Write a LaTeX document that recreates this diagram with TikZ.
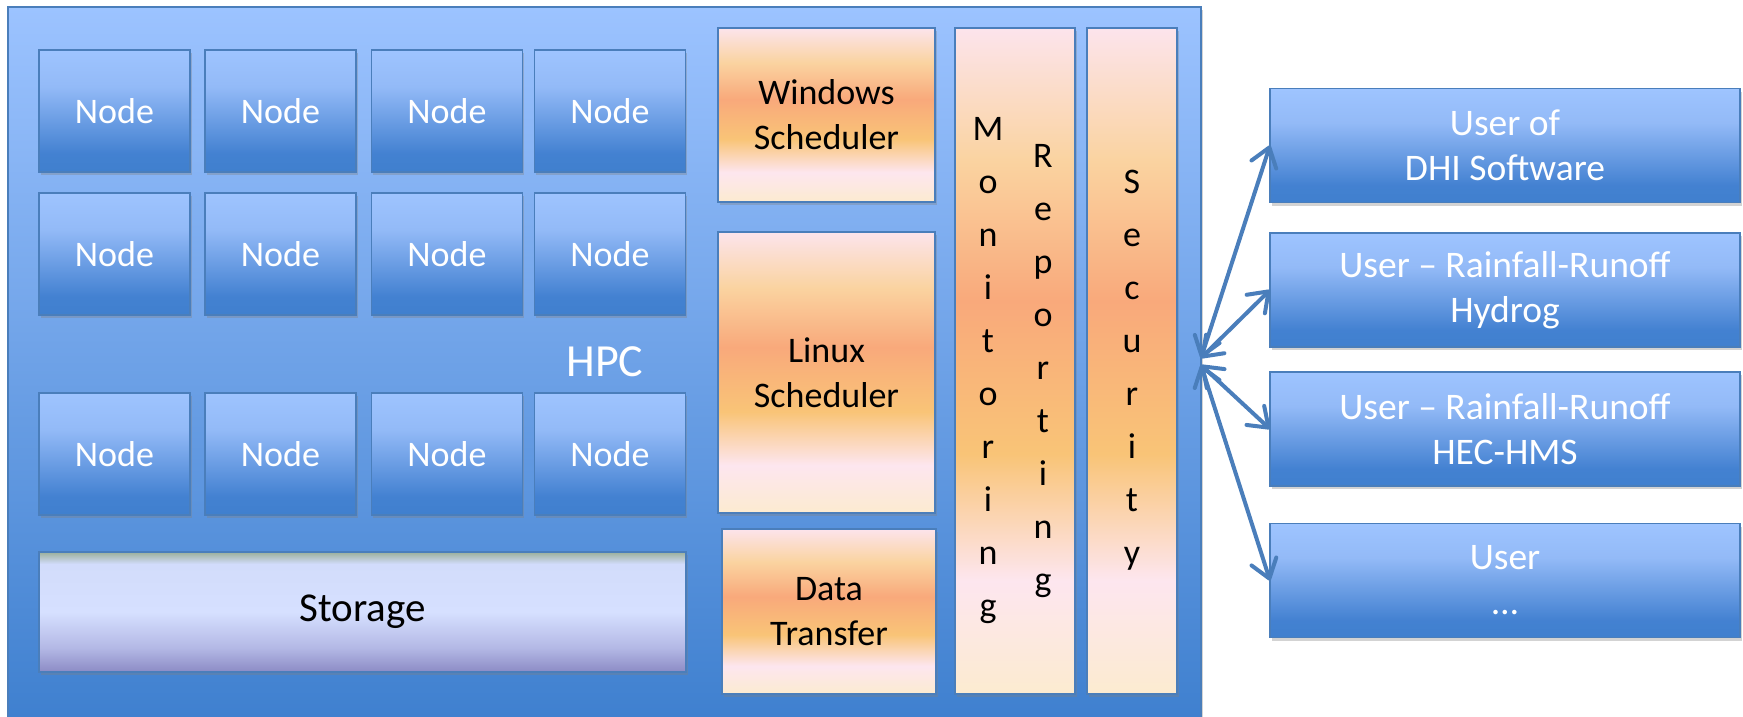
\documentclass[tikz,border=0pt]{standalone}
\usepackage{fontspec}
\setmainfont{Carlito}
\usetikzlibrary{arrows.meta,shadows}

\definecolor{bordc}{HTML}{4A7EBB}
\definecolor{arrowc}{HTML}{4A7EBB}
\definecolor{hpcTop}{HTML}{9CC3FF}
\definecolor{hpcBot}{HTML}{3F80CF}
\definecolor{bA}{HTML}{4080CE}
\definecolor{bB}{HTML}{4381D1}
\definecolor{bC}{HTML}{93BAF7}
\definecolor{bD}{HTML}{9EC4FF}
\definecolor{oA}{HTML}{FCEBD0}
\definecolor{oB}{HTML}{FDE6EF}
\definecolor{oC}{HTML}{F9C477}
\definecolor{oD}{HTML}{F9A97B}
\definecolor{oE}{HTML}{FAD3A0}
\definecolor{oF}{HTML}{FCE4EC}
\definecolor{sA}{HTML}{8C8BC5}
\definecolor{sB}{HTML}{B3B8E5}
\definecolor{sC}{HTML}{D6E0FF}
\definecolor{sD}{HTML}{D2DCFB}
\definecolor{sE}{HTML}{9CB09B}

\pgfdeclareverticalshading{blueshade}{100bp}{color(0bp)=(bA); color(25bp)=(bA); color(32.5bp)=(bB); color(60bp)=(bC); color(75bp)=(bD); color(100bp)=(bD)}
\pgfdeclareverticalshading{orangeshade}{100bp}{color(0bp)=(oA); color(25bp)=(oA); color(33.5bp)=(oB); color(43bp)=(oC); color(54.5bp)=(oD); color(65bp)=(oE); color(75bp)=(oF); color(100bp)=(oF)}
\pgfdeclareverticalshading{storageshade}{100bp}{color(0bp)=(sA); color(25bp)=(sA); color(35bp)=(sB); color(50bp)=(sC); color(70bp)=(sD); color(75bp)=(sE); color(100bp)=(sE)}

\begin{document}
\begin{tikzpicture}[x=1pt,y=-1pt,
  box/.style={rectangle, inner sep=0pt, outer sep=0pt, line width=1.5pt, draw=bordc,
    drop shadow={shadow xshift=1.5pt,shadow yshift=-3pt,opacity=0.35}},
  bluebox/.style={box, shade, shading=blueshade, text=white, font=\fontsize{36}{44}\selectfont, align=center},
  nodebox/.style={bluebox, minimum width=151pt, minimum height=122pt},
  userbox/.style={bluebox, minimum width=470pt, minimum height=114pt, font=\fontsize{37.5}{45}\selectfont},
  orbox/.style={box, shade, shading=orangeshade, text=black, font=\fontsize{36}{45}\selectfont, align=center},
  vtext/.style={inner sep=0pt, text=black, font=\fontsize{36}{53}\selectfont, align=center},
  conn/.style={draw=arrowc, line width=4pt, >={Straight Barb[length=18pt,width=26pt,round]}, <->}
]
\useasboundingbox (0,0) rectangle (1743,716);

% HPC outer box
\node[box, shade, top color=hpcTop, bottom color=hpcBot, minimum width=1193pt, minimum height=712pt] (hpc) at (604.5,363) {};
\node[inner sep=0pt, text=white, font=\fontsize{46}{55}\selectfont] (hpclabel) at (605,362) {HPC};

% compute nodes
\node[nodebox] (n11) at (114.5,111) {Node};
\node[nodebox] (n12) at (280.5,111) {Node};
\node[nodebox] (n13) at (447,111) {Node};
\node[nodebox] (n14) at (610,111) {Node};
\node[nodebox] (n21) at (114.5,254) {Node};
\node[nodebox] (n22) at (280.5,254) {Node};
\node[nodebox] (n23) at (447,254) {Node};
\node[nodebox] (n24) at (610,254) {Node};
\node[nodebox] (n31) at (114.5,454) {Node};
\node[nodebox] (n32) at (280.5,454) {Node};
\node[nodebox] (n33) at (447,454) {Node};
\node[nodebox] (n34) at (610,454) {Node};

% storage
\node[box, shade, shading=storageshade, minimum width=647pt, minimum height=120pt, font=\fontsize{41}{49}\selectfont] (storage) at (362.5,612) {Storage};

% schedulers
\node[orbox, minimum width=217pt, minimum height=174pt] (win) at (826.5,115) {Windows\\Scheduler};
\node[orbox, minimum width=217pt, minimum height=281pt] (lin) at (826.5,372.5) {Linux\\Scheduler};
\node[orbox, minimum width=214pt, minimum height=165pt] (dt) at (829,611.5) {Data\\Transfer};

% monitoring / reporting, security
\node[orbox, minimum width=120pt, minimum height=666pt] (monrep) at (1015,361) {};
\node[orbox, minimum width=90pt, minimum height=666pt] (sec) at (1132,361) {};
\node[vtext] (mon) at (988,371) {M\\o\\n\\i\\t\\o\\r\\i\\n\\g};
\node[vtext] (rep) at (1043,371) {R\\e\\p\\o\\r\\t\\i\\n\\g};
\node[vtext] (secl) at (1132,370) {S\\e\\c\\u\\r\\i\\t\\y};

% users
\node[userbox] (u1) at (1505,145.5) {User of\\DHI Software};
\node[userbox] (u2) at (1505,290) {User -- Rainfall-Runoff\\Hydrog};
\node[userbox] (u3) at (1505,429) {User -- Rainfall-Runoff\\HEC-HMS};
\node[userbox] (u4) at (1505,580.5) {User\\\dots};

% connectors
\coordinate (hubA) at (1201,358);
\coordinate (hubB) at (1201,365);
\draw[conn] (hubA) -- (u1.west);
\draw[conn] (hubA) -- (u2.west);
\draw[conn] (hubB) -- (u3.west);
\draw[conn] (hubB) -- (u4.west);
\end{tikzpicture}
\end{document}
